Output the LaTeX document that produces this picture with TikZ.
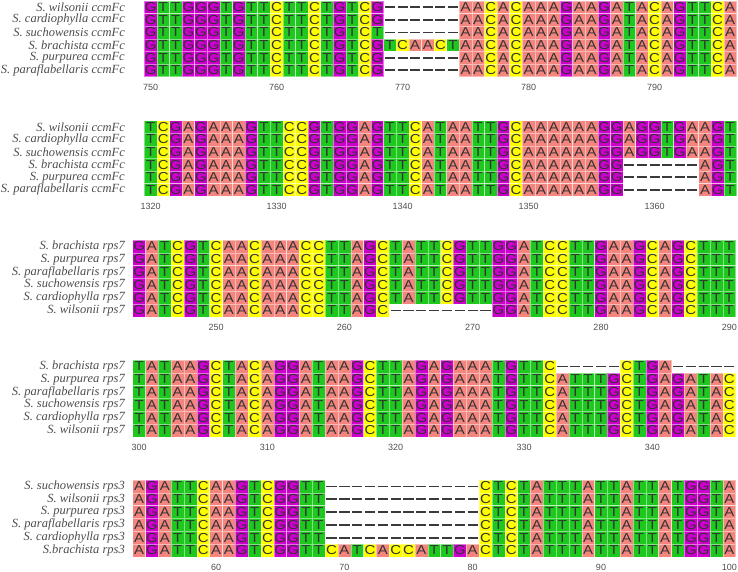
\documentclass[tikz,border=0pt]{standalone}
\usepackage{fontspec}
\usepackage{xcolor}
\usepackage{tikz}

\definecolor{FigBaseA}{HTML}{F3857E}
\definecolor{FigBaseC}{HTML}{FFFF00}
\definecolor{FigBaseG}{HTML}{CC00CC}
\definecolor{FigBaseT}{HTML}{1EC81E}
\definecolor{FigText}{HTML}{333333}
\definecolor{FigLabel}{HTML}{4D4D4D}
\definecolor{FigTick}{HTML}{505050}
\definecolor{FigDash}{HTML}{3A3A3A}

\newfontfamily\FigBaseFont[FakeStretch=1.15]{Liberation Sans}
\newfontfamily\FigTickFont{Liberation Sans}
\newfontfamily\FigLabelFont{Liberation Serif}

% one aligned row: block name, row number, bases, species label
\makeatletter
\newcount\seqcol
\def\seqgap{-}
\newcommand\seqrow[4]{%
  \pgfmathsetmacro\rowy{\blky+(#2-1)*\blkh}%
  \pgfmathsetmacro\rowmid{\rowy+\blkh/2}%
  \node[rowlabel] (#1lab#2) at (125,\rowmid) {#4};%
  \global\seqcol=0
  \@tfor\seqbase:=#3\do{%
    \global\advance\seqcol by 1
    \pgfmathsetmacro\cellx{\blkx+(\the\seqcol-1)*\blkw}%
    \edef\cellname{#1r#2c\the\seqcol}%
    \ifx\seqbase\seqgap
      \node[gapcell] (\cellname) at (\cellx,\rowy) {};%
    \else
      \node[cell, nuc/.expanded=\seqbase] (\cellname) at (\cellx,\rowy) {\seqbase};%
    \fi}%
}
% position labels under a block: block name, first labelled column, labels
\newcommand\seqticks[3]{%
  \pgfmathsetmacro\ticky{\blky+6*\blkh+10.5}%
  \foreach \tk [count=\ti from 0] in {#3} {%
    \pgfmathsetmacro\tickx{\blkx+(#2+10*\ti-0.5)*\blkw}%
    \node[ticklabel] (#1tick\ti) at (\tickx,\ticky) {\tk};%
  }%
}
\makeatother

\begin{document}
\begin{tikzpicture}[
x=1pt, y=-1pt,
cell/.style={
draw=white,
draw opacity=0.45,
line width=0.5pt,
inner sep=0pt,
outer sep=0pt,
anchor=north west,
minimum width=\blkw pt,
minimum height=\blkh pt,
font=\FigBaseFont\fontsize{13}{13}\selectfont,
text=FigText
},
nuc/.style={fill=FigBase#1},
gapcell/.style={
fill=white,
inner sep=0pt,
outer sep=0pt,
anchor=north west,
minimum width=\blkw pt,
minimum height=\blkh pt,
path picture={\draw[gapdash] ([xshift=1.3pt]path picture bounding box.west) -- ([xshift=-1.3pt]path picture bounding box.east);}
},
gapdash/.style={line width=1.8pt, draw=FigDash},
rowlabel/.style={
anchor=east,
inner sep=0pt,
font=\FigLabelFont\itshape\fontsize{12.5}{14}\selectfont,
text=FigLabel
},
ticklabel/.style={
inner sep=0pt,
font=\FigTickFont\fontsize{9}{10}\selectfont,
text=FigTick
}
]

\path[use as bounding box, fill=white] (0,0) rectangle (738,572);

% Block 1: ccmFc, sites 750-796
\def\blkx{144.3}\def\blky{1}\def\blkw{12.6}\def\blkh{12.6}
\seqrow{ccmA}{1}{GTTGGGTGTTCTTCTGTCG------AACACAAAGAAGATACAGTTCA}{S. wilsonii ccmFc}
\seqrow{ccmA}{2}{GTTGGGTGTTCTTCTGTCG------AACACAAAGAAGATACAGTTCA}{S. cardiophylla ccmFc}
\seqrow{ccmA}{3}{GTTGGGTGTTCTTCTGTCT------AACACAAAGAAGATACAGTTCA}{S. suchowensis ccmFc}
\seqrow{ccmA}{4}{GTTGGGTGTTCTTCTGTCGTCAACTAACACAAAGAAGATACAGTTCA}{S. brachista ccmFc}
\seqrow{ccmA}{5}{GTTGGGTGTTCTTCTGTCG------AACACAAAGAAGATACAGTTCA}{S. purpurea ccmFc}
\seqrow{ccmA}{6}{GTTGGGTGTTCTTCTGTCG------AACACAAAGAAGATACAGTTCA}{S. paraflabellaris ccmFc}
\seqticks{ccmA}{1}{750,760,770,780,790}

% Block 2: ccmFc, sites 1320-1366
\def\blkx{144.3}\def\blky{120.6}\def\blkw{12.6}\def\blkh{12.6}
\seqrow{ccmB}{1}{TCGAGAAAGTTCCGTGGAGTTCATAATTGCAAAAAAGGAGGTGAAGT}{S. wilsonii ccmFc}
\seqrow{ccmB}{2}{TCGAGAAAGTTCCGTGGAGTTCATAATTGCAAAAAAGGAGGTGAAGT}{S. cardiophylla ccmFc}
\seqrow{ccmB}{3}{TCGAGAAAGTTCCGTGGAGTTCATAATTGCAAAAAAGGAGGTGAAGT}{S. suchowensis ccmFc}
\seqrow{ccmB}{4}{TCGAGAAAGTTCCGTGGAGTTCATAATTGCAAAAAAGG------AGT}{S. brachista ccmFc}
\seqrow{ccmB}{5}{TCGAGAAAGTTCCGTGGAGTTCATAATTGCAAAAAAGG------AGT}{S. purpurea ccmFc}
\seqrow{ccmB}{6}{TCGAGAAAGTTCCGTGGAGTTCATAATTGCAAAAAAGG------AGT}{S. paraflabellaris ccmFc}
\seqticks{ccmB}{1}{1320,1330,1340,1350,1360}

% Block 3: rps7, sites 244-290
\def\blkx{132.7}\def\blky{240}\def\blkw{12.83}\def\blkh{12.8}
\seqrow{rpsA}{1}{GATCGTCAACAAACCTTAGCTATTCGTTGGATCCTTGAAGCAGCTTT}{S. brachista rps7}
\seqrow{rpsA}{2}{GATCGTCAACAAACCTTAGCTATTCGTTGGATCCTTGAAGCAGCTTT}{S. purpurea rps7}
\seqrow{rpsA}{3}{GATCGTCAACAAACCTTAGCTATTCGTTGGATCCTTGAAGCAGCTTT}{S. paraflabellaris rps7}
\seqrow{rpsA}{4}{GATCGTCAACAAACCTTAGCTATTCGTTGGATCCTTGAAGCAGCTTT}{S. suchowensis rps7}
\seqrow{rpsA}{5}{GATCGTCAACAAACCTTAGCTATTCGTTGGATCCTTGAAGCAGCTTT}{S. cardiophylla rps7}
\seqrow{rpsA}{6}{GATCGTCAACAAACCTTAGC--------GGATCCTTGAAGCAGCTTT}{S. wilsonii rps7}
\seqticks{rpsA}{7}{250,260,270,280,290}

% Block 4: rps7, sites 300-346
\def\blkx{132.7}\def\blky{360}\def\blkw{12.83}\def\blkh{12.8}
\seqrow{rpsB}{1}{TATAAGCTACAGGATAAGCTTAGAGAAATGTTC-----CTGA-----}{S. brachista rps7}
\seqrow{rpsB}{2}{TATAAGCTACAGGATAAGCTTAGAGAAATGTTCATTTGCTGAGATAC}{S. purpurea rps7}
\seqrow{rpsB}{3}{TATAAGCTACAGGATAAGCTTAGAGAAATGTTCATTTGCTGAGATAC}{S. paraflabellaris rps7}
\seqrow{rpsB}{4}{TATAAGCTACAGGATAAGCTTAGAGAAATGTTCATTTGCTGAGATAC}{S. suchowensis rps7}
\seqrow{rpsB}{5}{TATAAGCTACAGGATAAGCTTAGAGAAATGTTCATTTGCTGAGATAC}{S. cardiophylla rps7}
\seqrow{rpsB}{6}{TATAAGCTACAGGATAAGCTTAGAGAAATGTTCATTTGCTGAGATAC}{S. wilsonii rps7}
\seqticks{rpsB}{1}{300,310,320,330,340}

% Block 5: rps3, sites 54-100
\def\blkx{132.7}\def\blky{480}\def\blkw{12.83}\def\blkh{12.8}
\seqrow{rpsC}{1}{AGATTCAAGTCGGTT------------CTCTATTTATTATTATGGTA}{S. suchowensis rps3}
\seqrow{rpsC}{2}{AGATTCAAGTCGGTT------------CTCTATTTATTATTATGGTA}{S. wilsonii rps3}
\seqrow{rpsC}{3}{AGATTCAAGTCGGTT------------CTCTATTTATTATTATGGTA}{S. purpurea rps3}
\seqrow{rpsC}{4}{AGATTCAAGTCGGTT------------CTCTATTTATTATTATGGTA}{S. paraflabellaris rps3}
\seqrow{rpsC}{5}{AGATTCAAGTCGGTT------------CTCTATTTATTATTATGGTA}{S. cardiophylla rps3}
\seqrow{rpsC}{6}{AGATTCAAGTCGGTTCATCACCATTGACTCTATTTATTATTATGGTA}{S.brachista rps3}
\seqticks{rpsC}{7}{60,70,80,90,100}

\end{tikzpicture}
\end{document}
